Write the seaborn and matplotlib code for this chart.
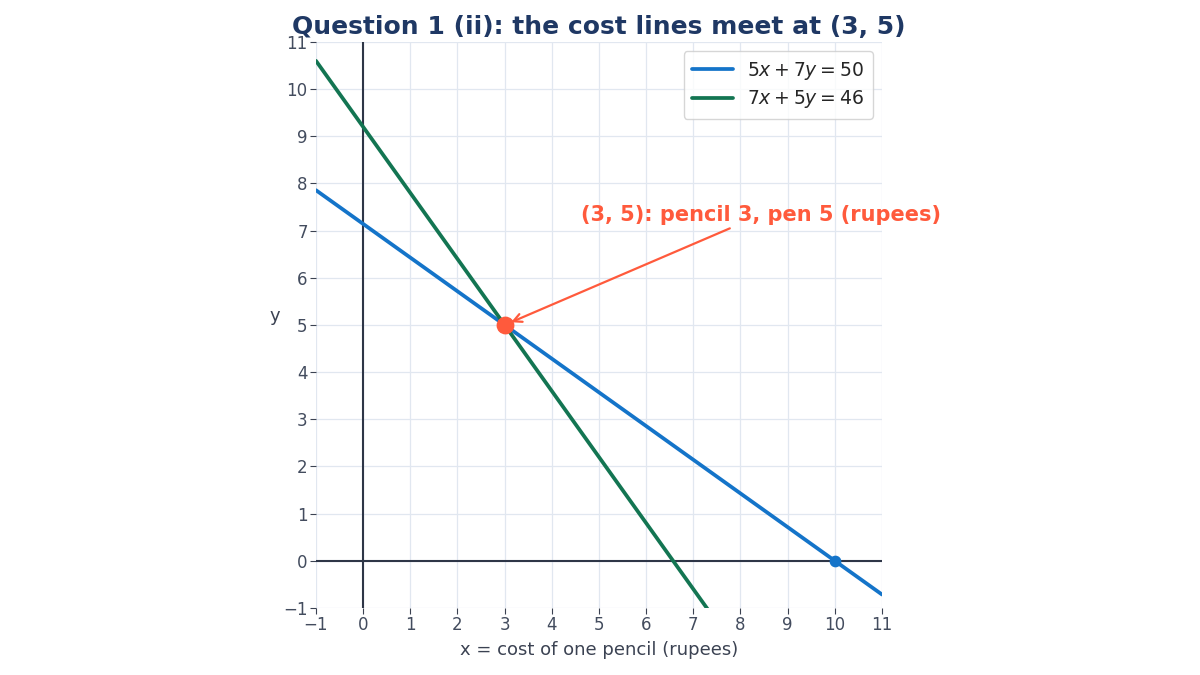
import numpy as np
import pandas as pd
import matplotlib
matplotlib.use("Agg")
import matplotlib.pyplot as plt
import seaborn as sns

# Equations a*x + b*y = c
eq_labels = [r"$5x + 7y = 50$", r"$7x + 5y = 46$"]
coef_a = [5, 7]
coef_b = [7, 5]
coef_c = [50, 46]
line_colors = ["#1474c9", "#137552"]
x_ends = [-1, 11]

solution_x = [3]
solution_y = [5]
intercept_x = [10]
intercept_y = [0]
ticks = list(range(-1, 12))

sns.set_theme(style="white")
plt.rcParams["font.family"] = ["DejaVu Sans"]

fig = plt.figure(figsize=(12, 6.75), dpi=100)
ax = fig.add_axes([0.2633, 0.0993, 0.4717, 0.8385])

rows = []
for lab, a, b, c in zip(eq_labels, coef_a, coef_b, coef_c):
    for x in x_ends:
        rows.append({"x": x, "y": (c - a * x) / b, "eq": lab})
df = pd.DataFrame(rows)

ax.grid(True, color="#e1e7f0", linewidth=0.9)
ax.set_axisbelow(True)
ax.axhline(0, color="#2e3647", linewidth=1.5, zorder=1)
ax.axvline(0, color="#2e3647", linewidth=1.5, zorder=1)

sns.lineplot(data=df, x="x", y="y", hue="eq", palette=dict(zip(eq_labels, line_colors)),
             linewidth=2.7, ax=ax, sort=False, zorder=3)

ax.scatter(intercept_x, intercept_y, s=55, color=line_colors[0], zorder=5)
ax.scatter(solution_x, solution_y, s=140, color="#ff5a3c", zorder=6)

ax.annotate("(3, 5): pencil 3, pen 5 (rupees)", xy=(solution_x[0], solution_y[0]),
            xytext=(8.43, 7.33), ha="center", va="center",
            fontsize=15, fontweight="bold", color="#ff5a3c",
            arrowprops=dict(arrowstyle="->", color="#ff5a3c", lw=1.6, shrinkA=0, shrinkB=5),
            annotation_clip=False, zorder=7)

ax.set_xlim(-1, 11)
ax.set_ylim(-1, 11)
ax.set_aspect("equal")
ax.set_xticks(ticks)
ax.set_yticks(ticks)
for s in ax.spines.values():
    s.set_visible(False)
ax.tick_params(axis="both", which="both", length=4, width=0.8, color="#3b4252",
               labelcolor="#434c5e", labelsize=12, bottom=True, left=True, pad=2)

ax.set_xlabel("x = cost of one pencil (rupees)", fontsize=13, color="#3b4252", labelpad=5)
ax.set_ylabel("y", fontsize=13, color="#3b4252", rotation=0, labelpad=6)
ax.set_title("Question 1 (ii): the cost lines meet at (3, 5)", fontsize=18,
             fontweight="bold", color="#1f3864", pad=6)

leg = ax.legend(loc="upper right", fontsize=13.5, frameon=True, handlelength=2.2,
                borderpad=0.45, labelspacing=0.35, handletextpad=0.75)
leg.get_frame().set_edgecolor("#cccccc")
leg.set_title(None)

fig.savefig("out.png", dpi=100)
